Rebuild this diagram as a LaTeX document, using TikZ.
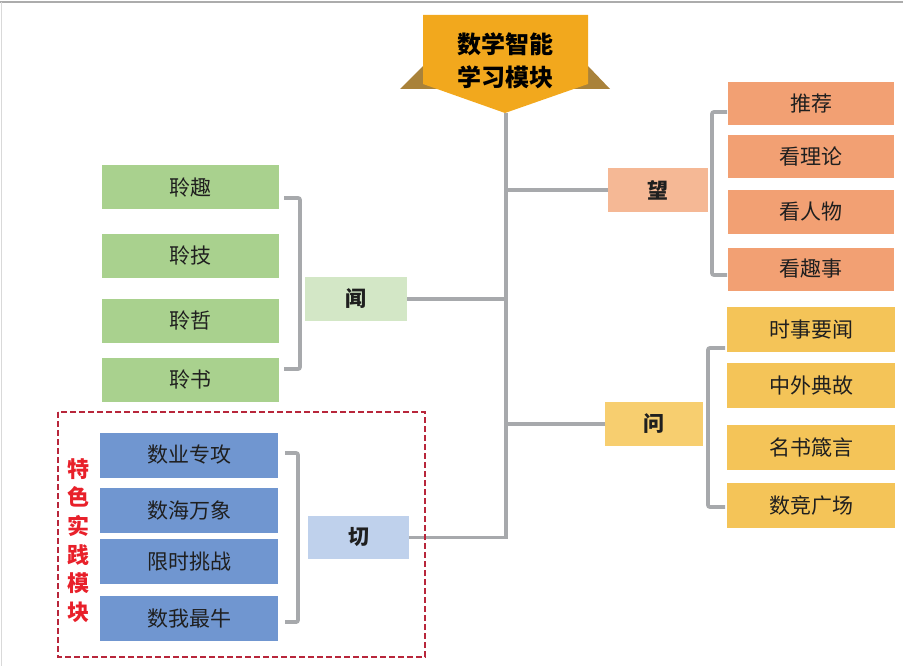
\documentclass[tikz,border=0pt]{standalone}
\usepackage{fontspec}
\newfontfamily\cjk{Noto Sans CJK SC}
\definecolor{cBanner}{HTML}{F2A81D}
\definecolor{cWing}{HTML}{A9823A}
\definecolor{cGreen}{HTML}{A9D18E}
\definecolor{cGreenL}{HTML}{D3E7C6}
\definecolor{cSalmon}{HTML}{F2A073}
\definecolor{cSalmonL}{HTML}{F5B895}
\definecolor{cYellow}{HTML}{F4C458}
\definecolor{cYellowL}{HTML}{F7CE6F}
\definecolor{cBlue}{HTML}{7096D0}
\definecolor{cBlueL}{HTML}{BFD1EC}
\definecolor{cLine}{HTML}{A7A9AC}
\definecolor{cDash}{HTML}{B8263B}
\definecolor{cRedText}{HTML}{E8202A}
\begin{document}
\begin{tikzpicture}[x=1pt,y=-1pt,
  base/.style={inner sep=0pt, outer sep=0pt, text=black!88, font=\cjk\fontsize{21}{24}\selectfont},
  leafG/.style={base, fill=cGreen, minimum width=177pt, minimum height=44pt},
  leafS/.style={base, fill=cSalmon, minimum width=166pt, minimum height=43pt},
  leafY/.style={base, fill=cYellow, minimum width=168pt, minimum height=45pt},
  leafB/.style={base, fill=cBlue, minimum width=178pt, minimum height=45pt},
  hub/.style={base, font=\cjk\bfseries\fontsize{21}{24}\selectfont, minimum width=100pt, minimum height=44pt},
  conn/.style={draw=cLine, line width=3.8pt},
  brk/.style={draw=cLine, line width=3.8pt, rounded corners=2pt}]
\useasboundingbox (0,0) rectangle (903,666);
% frame lines
\draw[gray!65, line width=1.5pt] (0,2) -- (903,2);
\draw[gray!30, line width=1pt] (1,2) -- (1,666);

% banner
\fill[cWing] (400,89) -- (423,66) -- (452,89) -- cycle;
\fill[cWing] (610,89) -- (588,66) -- (558,89) -- cycle;
\fill[cBanner] (423,15) -- (588,15) -- (588,84) -- (505,113) -- (423,84) -- cycle;
\node[base, align=center, font=\cjk\bfseries\fontsize{24}{33}\selectfont, text=black] (title) at (505,61) {数学智能\\学习模块};
\coordinate (tip) at (506,113);

% hubs
\node[hub, fill=cSalmonL, minimum width=100pt] (wang) at (658,190) {望};
\node[hub, fill=cGreenL, minimum width=102pt] (wen) at (356,299) {闻};
\node[hub, fill=cYellowL, minimum width=98pt] (wenq) at (654,424) {问};
\node[hub, fill=cBlueL, minimum width=101pt, minimum height=43pt] (qie) at (358.5,537.5) {切};

% green leaves
\node[leafG] (g1) at (190.5,187.5) {聆趣};
\node[leafG] (g2) at (190.5,255.5) {聆技};
\node[leafG] (g3) at (190.5,320.5) {聆哲};
\node[leafG] (g4) at (190.5,380) {聆书};

% salmon leaves
\node[leafS] (s1) at (811,104) {推荐};
\node[leafS] (s2) at (811,157) {看理论};
\node[leafS] (s3) at (811,212) {看人物};
\node[leafS] (s4) at (811,269) {看趣事};

% yellow leaves
\node[leafY] (y1) at (811,329.5) {时事要闻};
\node[leafY] (y2) at (811,385.5) {中外典故};
\node[leafY] (y3) at (811,447.5) {名书箴言};
\node[leafY] (y4) at (811,505.5) {数竞广场};

% blue leaves
\node[leafB] (b1) at (189,455) {数业专攻};
\node[leafB] (b2) at (189,510.5) {数海万象};
\node[leafB] (b3) at (189,561.5) {限时挑战};
\node[leafB] (b4) at (189,618.5) {数我最牛};

% trunk and branches
\draw[conn] (tip) |- (qie.east);
\draw[conn] (wang.west) -- (wang.west -| tip);
\draw[conn] (wen.east) -- (wen.east -| tip);
\draw[conn] (wenq.west) -- (wenq.west -| tip);

% brackets
\coordinate (gA) at (284,198); \coordinate (gB) at (284,369);
\draw[brk] (gA) -- ++(16,0) |- (gB);
\coordinate (sA) at (727,112); \coordinate (sB) at (727,275);
\draw[brk] (sA) -- ++(-15,0) |- (sB);
\coordinate (yA) at (725,348); \coordinate (yB) at (725,507);
\draw[brk] (yA) -- ++(-17,0) |- (yB);
\coordinate (bA) at (285,453); \coordinate (bB) at (285,622);
\draw[brk] (bA) -- ++(13,0) |- (bB);

% dashed frame and label
\draw[cDash, line width=2.6pt, dash pattern=on 6pt off 3pt] (58,412) rectangle (425,657);
\node[base, align=center, text=cRedText, font=\cjk\bfseries\fontsize{22}{28.6}\selectfont] (tese) at (78,540.5) {特\\色\\实\\践\\模\\块};
\end{tikzpicture}
\end{document}
